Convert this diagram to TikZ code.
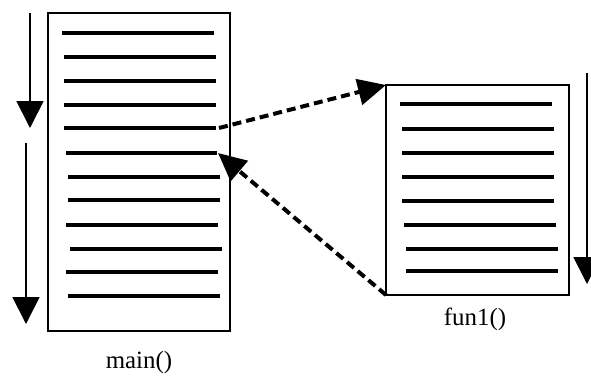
\documentclass[tikz,border=0pt]{standalone}
\usepackage{fontspec}
\setmainfont{Liberation Serif}
\usetikzlibrary{arrows.meta}
\begin{document}
\begin{tikzpicture}[x=1pt,y=-1pt,
  box/.style={draw,line width=1.6pt,inner sep=0pt,outer sep=0pt},
  codeline/.style={line width=3.4pt},
  flow/.style={line width=1.8pt,-{Triangle[length=27pt,width=27pt]}},
  call/.style={line width=4pt,dash pattern=on 9pt off 5pt,-{Triangle[length=28pt,width=26pt]}},
  lbl/.style={inner sep=0pt,font=\Huge}]
\useasboundingbox (0,0) rectangle (591,375);
% boxes
\node[box,minimum width=182pt,minimum height=318pt] (main) at (139,172) {};
\node[box,minimum width=183pt,minimum height=210pt] (fun) at (477.5,190) {};
% main code lines
\foreach \y/\a/\b [count=\i] in {33/62/214,57/64/216,81/64/216,105/64/216,128/64/216,153/66/217,177/68/220,200/68/220,225/66/218,249/70/222,272/66/218,296/68/220}
  {\draw[codeline] (\a,\y) coordinate (m\i a) -- (\b,\y) coordinate (m\i b);}
% fun1 code lines
\foreach \y/\a/\b [count=\i] in {104/400/552,129/402/554,153/402/554,177/402/554,201/402/554,225/404/556,249/406/558,271/406/558}
  {\draw[codeline] (\a,\y) coordinate (f\i a) -- (\b,\y) coordinate (f\i b);}
% flow arrows
\coordinate (a1s) at (30,13); \coordinate (a1e) at (30,128);
\coordinate (a2s) at (26,143); \coordinate (a2e) at (26,324);
\coordinate (a3s) at (587,73); \coordinate (a3e) at (587,284);
\draw[flow] (a1s) -- (a1e);
\draw[flow] (a2s) -- (a2e);
\draw[flow] (a3s) -- (a3e);
% call / return
\draw[call] (m5b) ++(3,0) -- (fun.north west);
\draw[call] (fun.south west) -- ([xshift=1pt]m6b);
% labels
\node[lbl] (mainlbl) at (139,363) {main()};
\node[lbl] (funlbl) at (475,319) {fun1()};
\end{tikzpicture}
\end{document}
